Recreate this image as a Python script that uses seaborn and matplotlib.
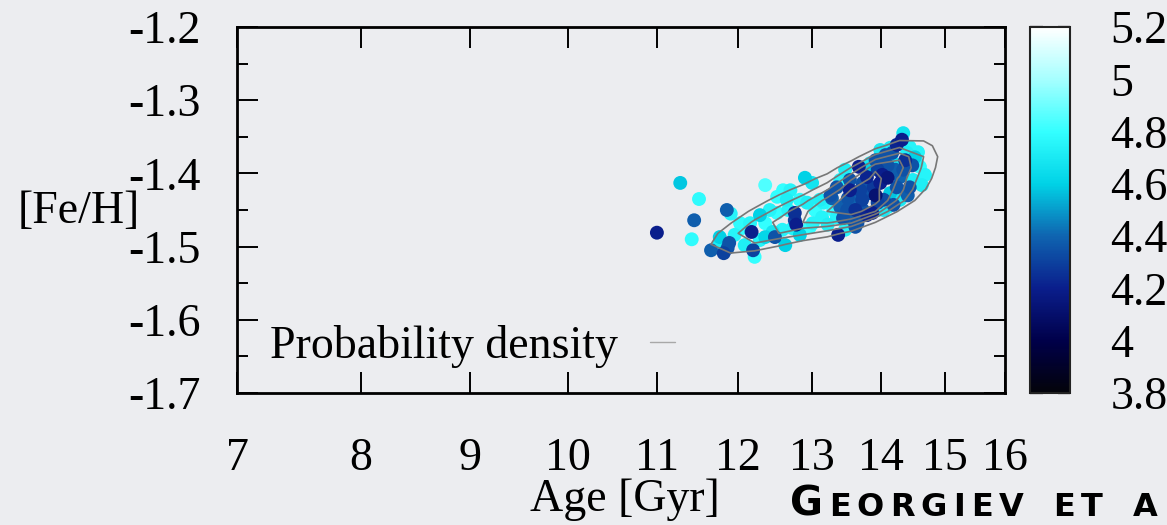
import numpy as np
import pandas as pd
import matplotlib
matplotlib.use("Agg")
import matplotlib.pyplot as plt
import seaborn as sns
from matplotlib.colors import LinearSegmentedColormap, Normalize
from matplotlib.cm import ScalarMappable
from matplotlib.lines import Line2D
from matplotlib.ticker import NullLocator, MultipleLocator

# ---------------- data ----------------
age = [11.00, 11.28, 11.51, 11.45, 11.42, 11.66, 11.77, 11.77, 11.89, 11.82,
       11.87, 11.86, 11.91, 12.03, 12.05, 12.16, 12.18, 12.20, 12.22, 12.36,
       12.36, 12.36, 12.49, 12.46, 12.59, 12.63, 12.52, 12.60, 12.65, 12.52,
       12.67, 12.76, 12.78, 12.76, 12.83, 12.90, 13.00, 12.93, 13.11, 13.01,
       12.97, 13.14, 13.35, 13.28, 13.37, 13.67, 14.34, 14.32, 14.24, 14.17,
       14.40, 14.52, 14.55, 14.60, 14.48, 14.07, 13.99, 13.95, 14.02, 14.10,
       13.99, 13.89, 13.84, 13.79, 13.73, 13.69, 13.54, 13.54, 13.40, 13.59,
       13.50, 13.54, 13.59, 13.65, 13.73, 13.79, 13.87, 13.95, 14.04, 14.14,
       14.24, 14.29, 14.34, 14.44, 14.49, 14.19, 14.14, 14.44, 14.57, 13.92,
       13.84, 13.79, 13.47, 13.40, 13.26, 13.16, 13.30, 13.35, 13.44, 13.62,
       13.95, 14.04, 14.10, 14.68, 14.63, 14.41, 14.29, 14.19, 13.47, 13.22,
       13.04, 12.83, 12.73, 12.29, 12.09, 11.96, 12.42, 12.29, 12.70, 14.22,
       14.10, 13.99, 13.92, 13.72, 14.37, 13.51, 13.62]
feh = [-1.481, -1.413, -1.435, -1.464, -1.490, -1.505, -1.487, -1.495, -1.495, -1.509,
       -1.502, -1.450, -1.455, -1.468, -1.475, -1.468, -1.480, -1.505, -1.514, -1.416,
       -1.468, -1.487, -1.487, -1.480, -1.477, -1.498, -1.432, -1.423, -1.436, -1.454,
       -1.450, -1.454, -1.470, -1.464, -1.484, -1.406, -1.413, -1.440, -1.436, -1.468,
       -1.473, -1.460, -1.419, -1.434, -1.484, -1.391, -1.345, -1.354, -1.361, -1.372,
       -1.372, -1.378, -1.386, -1.391, -1.389, -1.375, -1.386, -1.395, -1.402, -1.406,
       -1.413, -1.419, -1.427, -1.405, -1.413, -1.423, -1.423, -1.409, -1.446, -1.436,
       -1.450, -1.460, -1.464, -1.468, -1.450, -1.457, -1.454, -1.440, -1.436, -1.427,
       -1.419, -1.405, -1.395, -1.419, -1.409, -1.386, -1.365, -1.364, -1.371, -1.382,
       -1.386, -1.395, -1.395, -1.409, -1.430, -1.440, -1.450, -1.460, -1.461, -1.473,
       -1.450, -1.450, -1.446, -1.402, -1.416, -1.430, -1.436, -1.443, -1.477, -1.470,
       -1.450, -1.436, -1.475, -1.491, -1.498, -1.484, -1.450, -1.457, -1.423, -1.395,
       -1.389, -1.368, -1.430, -1.436, -1.382, -1.434, -1.450]
logg = [4.20, 4.58, 4.78, 4.38, 4.78, 4.38, 4.60, 4.72, 4.35, 4.30,
        4.35, 4.38, 4.75, 4.78, 4.80, 4.75, 4.20, 4.30, 4.80, 4.85,
        4.80, 4.62, 4.35, 4.68, 4.75, 4.60, 4.80, 4.80, 4.72, 4.80,
        4.75, 4.25, 4.20, 4.30, 4.60, 4.60, 4.68, 4.72, 4.72, 4.75,
        4.80, 4.75, 4.35, 4.38, 4.20, 4.20, 4.68, 4.20, 4.22, 4.35,
        4.72, 4.60, 4.75, 4.80, 4.35, 4.35, 4.38, 4.30, 4.20, 4.15,
        4.20, 4.28, 4.35, 4.22, 4.35, 4.30, 4.20, 4.35, 4.38, 4.40,
        4.35, 4.38, 4.40, 4.35, 4.35, 4.22, 4.20, 4.30, 4.32, 4.58,
        4.35, 4.40, 4.35, 4.35, 4.72, 4.68, 4.72, 4.75, 4.75, 4.35,
        4.70, 4.60, 4.72, 4.75, 4.35, 4.75, 4.80, 4.75, 4.35, 4.35,
        4.75, 4.70, 4.75, 4.75, 4.72, 4.38, 4.70, 4.35, 4.75, 4.72,
        4.80, 4.78, 4.75, 4.75, 4.72, 4.75, 4.75, 4.60, 4.75, 4.38,
        4.35, 4.70, 4.12, 4.30, 4.25, 4.35, 4.25]

x_ticks = [7, 8, 9, 10, 11, 12, 13, 14, 15, 16]
x_tick_labels = ["7", "8", "9", "10", "11", "12", "13", "14", "15", "16"]
y_ticks = [-1.2, -1.3, -1.4, -1.5, -1.6, -1.7]
y_tick_labels = ["-1.2", "-1.3", "-1.4", "-1.5", "-1.6", "-1.7"]
cbar_ticks = [3.8, 4.0, 4.2, 4.4, 4.6, 4.8, 5.0, 5.2]
cbar_tick_labels = ["3.8", "4", "4.2", "4.4", "4.6", "4.8", "5", "5.2"]
legend_label = "Probability density"
credit_text = "GEORGIEV ET A"

# ---------------- style ----------------
W, H = 1167, 525
BG = "#ecedf0"
FS = 33

sns.set_theme(style="ticks")
plt.rcParams["font.family"] = ["Liberation Serif", "DejaVu Serif"]
plt.rcParams["text.color"] = "black"
plt.rcParams["axes.labelcolor"] = "black"
plt.rcParams["xtick.color"] = "black"
plt.rcParams["ytick.color"] = "black"
plt.rcParams["xtick.labelcolor"] = "black"
plt.rcParams["ytick.labelcolor"] = "black"

cmap = LinearSegmentedColormap.from_list(
    "gp",
    [(0.0, "#03030a"), (0.1429, "#00004a"), (0.2857, "#0a1e8c"),
     (0.4286, "#0f64b0"), (0.5714, "#00d2e6"), (0.7143, "#33ffff"),
     (0.8571, "#a5ffff"), (1.0, "#ffffff")])
norm = Normalize(vmin=3.8, vmax=5.2)

fig = plt.figure(figsize=(W / 100, H / 100), dpi=100, facecolor=BG)
ax = fig.add_axes([237 / W, 1 - 393 / H, 768 / W, 366 / H])
ax.set_facecolor("none")
ax.set_xscale("log")

df = pd.DataFrame({"age": age, "feh": feh, "logg": logg})
df = df.sort_values("logg", ascending=False, kind="stable")

sns.scatterplot(data=df, x="age", y="feh", hue="logg", palette=cmap,
                hue_norm=norm, s=100, linewidth=0, legend=False, ax=ax,
                zorder=3)
sns.kdeplot(data=df, x="age", y="feh", levels=[0.28, 0.45, 0.6, 0.74, 0.87],
            gridsize=20, bw_adjust=1.1, color="#777777", linewidths=1.2,
            ax=ax, log_scale=(True, False), zorder=4)

ax.set_xlim(7, 16)
ax.set_ylim(-1.7, -1.2)
ax.set_xticks(x_ticks)
ax.set_xticklabels(x_tick_labels)
ax.xaxis.set_minor_locator(NullLocator())
ax.set_yticks(y_ticks)
ax.set_yticklabels(y_tick_labels)
ax.yaxis.set_minor_locator(MultipleLocator(0.05))
ax.set_xlabel("")
ax.set_ylabel("")

ax.tick_params(axis="both", which="both", direction="in", top=True,
               right=True, colors="black", labelsize=FS)
ax.tick_params(axis="both", which="major", length=15, width=1.4)
ax.tick_params(axis="y", which="minor", length=8, width=1.4)
ax.tick_params(axis="x", pad=32)
ax.tick_params(axis="y", pad=26)
for sp in ax.spines.values():
    sp.set_visible(True)
    sp.set_linewidth(2)
    sp.set_color("black")

leg = ax.legend(handles=[Line2D([], [], color="#a8a8a8", lw=1.0)],
                labels=[legend_label], loc="center left",
                bbox_to_anchor=(0.043, 0.126), markerfirst=False,
                frameon=False, handlelength=0.55, handletextpad=0.7,
                borderpad=0, borderaxespad=0, fontsize=FS)
for t in leg.get_texts():
    t.set_color("black")

# colour bar
cax = fig.add_axes([1030 / W, 1 - 393 / H, 40 / W, 366 / H])
sm = ScalarMappable(norm=norm, cmap=cmap)
cb = fig.colorbar(sm, cax=cax)
cb.set_ticks(cbar_ticks)
cb.set_ticklabels(cbar_tick_labels)
cb.outline.set_linewidth(1.5)
cb.outline.set_edgecolor("#222222")
cax.tick_params(direction="in", left=True, right=True, length=9, width=1.6,
                color="black", labelcolor="black", labelsize=FS, pad=29)
cax.yaxis.set_minor_locator(NullLocator())

# axis titles
fig.text(18 / W, 1 - 212 / H, "[Fe/H]", ha="left", va="center", fontsize=FS,
         color="black")
fig.text(625 / W, 1 - 500 / H, "Age [Gyr]", ha="center", va="center",
         fontsize=FS, color="black")

# credit in small caps with letter spacing
renderer = fig.canvas.get_renderer()
xpos = 790
for i, ch in enumerate(credit_text):
    if ch == " ":
        xpos += 24
        continue
    size = 29 if i == 0 else 23
    t = fig.text(xpos / W, 1 - 516 / H, ch, fontsize=size, fontweight="bold",
                 family="DejaVu Sans", ha="left", va="baseline", color="black")
    xpos += t.get_window_extent(renderer).width + 6

fig.savefig("out.png", dpi=100, facecolor=BG)
